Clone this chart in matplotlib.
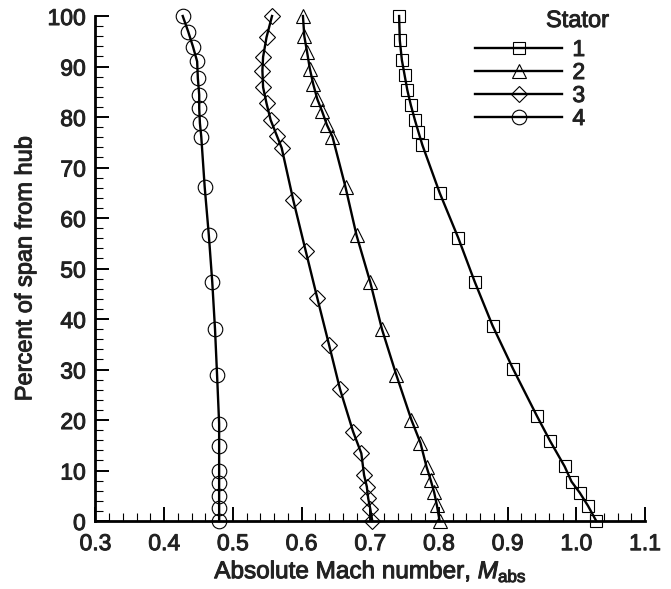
import matplotlib
matplotlib.use('Agg')
from matplotlib import pyplot as plt
from matplotlib import patheffects
from matplotlib.ticker import MultipleLocator

plt.rcParams['font.family'] = ['Liberation Sans', 'DejaVu Sans']
plt.rcParams['mathtext.fontset'] = 'custom'
plt.rcParams['mathtext.rm'] = 'Liberation Sans'
plt.rcParams['mathtext.it'] = 'Liberation Sans:italic'

# stator 1 (squares)
span_1 = [100, 95.2, 91.3, 88.3, 85.3, 82.4, 79.4, 77.1, 74.4, 65.0, 56.1, 47.4, 38.7, 30.1,
          20.7, 15.8, 10.8, 7.8, 5.6, 3.0, 0.0]
mach_1 = [0.742, 0.743, 0.746, 0.750, 0.754, 0.759, 0.765, 0.770, 0.776, 0.801, 0.828, 0.852,
          0.878, 0.908, 0.943, 0.962, 0.983, 0.993, 1.005, 1.017, 1.029]

# stator 2 (triangles)
span_2 = [100, 96.0, 92.9, 89.6, 86.5, 83.5, 81.1, 78.4, 76.1, 66.1, 56.6, 47.3, 38.0, 28.9,
          20.0, 15.5, 10.7, 8.1, 5.7, 3.1, 0.0]
mach_2 = [0.602, 0.604, 0.608, 0.612, 0.617, 0.623, 0.630, 0.637, 0.645, 0.664, 0.680, 0.700,
          0.717, 0.738, 0.760, 0.773, 0.782, 0.788, 0.793, 0.797, 0.801]

# stator 3 (diamonds)
span_3 = [100, 95.8, 91.9, 89.2, 85.9, 82.7, 79.4, 76.3, 73.9, 63.5, 53.5, 44.1, 34.9, 26.1,
          17.7, 13.4, 9.1, 6.8, 4.5, 2.4, 0.0]
mach_3 = [0.557, 0.549, 0.544, 0.543, 0.544, 0.549, 0.555, 0.564, 0.571, 0.588, 0.606, 0.623,
          0.640, 0.656, 0.675, 0.687, 0.691, 0.695, 0.697, 0.700, 0.703]

# stator 4 (circles)
span_4 = [100, 96.9, 93.9, 91.0, 87.7, 84.4, 81.7, 78.8, 76.1, 66.1, 56.6, 47.3, 38.0, 28.9,
          19.3, 14.8, 10.0, 7.6, 5.0, 2.6, 0.0]
mach_4 = [0.427, 0.435, 0.442, 0.448, 0.449, 0.451, 0.451, 0.452, 0.454, 0.459, 0.465, 0.470,
          0.474, 0.477, 0.480, 0.480, 0.480, 0.480, 0.480, 0.480, 0.480]

stator_labels = ['1', '2', '3', '4']

txt_color = '#222222'
thick = [patheffects.withStroke(linewidth=0.7, foreground=txt_color)]

fig = plt.figure(figsize=(6.71, 5.89), dpi=100)
ax = fig.add_axes([0.1423, 0.1154, 0.819, 0.8574])

series = [(mach_1, span_1, 's', 9), (mach_2, span_2, '^', 10),
          (mach_3, span_3, 'D', 8.5), (mach_4, span_4, 'o', 10.5)]
for (m, s, mk, ms), lab in zip(series, stator_labels):
    ax.plot(m, s, color='black', linewidth=1.7, marker=mk, markersize=ms,
            markerfacecolor='none', markeredgecolor='black', markeredgewidth=0.8,
            label=lab, clip_on=False)

ax.set_xlim(0.3, 1.1)
ax.set_ylim(0, 100)
ax.xaxis.set_minor_locator(MultipleLocator(0.02))
ax.yaxis.set_major_locator(MultipleLocator(10))
ax.yaxis.set_minor_locator(MultipleLocator(2))
ax.set_xticks([0.3, 0.4, 0.5, 0.6, 0.7, 0.8, 0.9, 1.0, 1.1])
ax.set_xticklabels(['0.3', '0.4', '0.5', '0.6', '0.7', '0.8', '0.9', '1.0', '1.1'])

ax.spines['top'].set_visible(False)
ax.spines['right'].set_visible(False)
ax.spines['left'].set_linewidth(2)
ax.spines['bottom'].set_linewidth(2)
ax.tick_params(which='major', direction='in', length=10, width=1.4, labelsize=16.5,
               colors='black')
ax.tick_params(axis='x', which='major', pad=8)
ax.tick_params(axis='y', which='major', pad=7)
ax.tick_params(which='minor', direction='in', length=5.5, width=0.8)
for t in ax.get_xticklabels() + ax.get_yticklabels():
    t.set_color(txt_color)
    t.set_path_effects(thick)

ax.set_xlabel(r'Absolute Mach number, $M_{\mathrm{abs}}$', fontsize=17.5, color=txt_color,
              labelpad=3, path_effects=thick)
ax.set_ylabel('Percent of span from hub', fontsize=17, color=txt_color, labelpad=8,
              path_effects=thick)

leg = ax.legend(loc='upper left', bbox_to_anchor=(475 / 671, 1 - 38 / 589),
                bbox_transform=fig.transFigure, frameon=False, fontsize=16.5,
                handlelength=3.8, handletextpad=0.45, labelspacing=0.0, borderpad=0,
                borderaxespad=0)
for t in leg.get_texts():
    t.set_color(txt_color)
    t.set_path_effects(thick)
fig.text(546 / 671, 1 - 21 / 589, 'Stator', fontsize=17, ha='left', va='center',
         color=txt_color, path_effects=thick)

fig.savefig('out.png', dpi=100)
